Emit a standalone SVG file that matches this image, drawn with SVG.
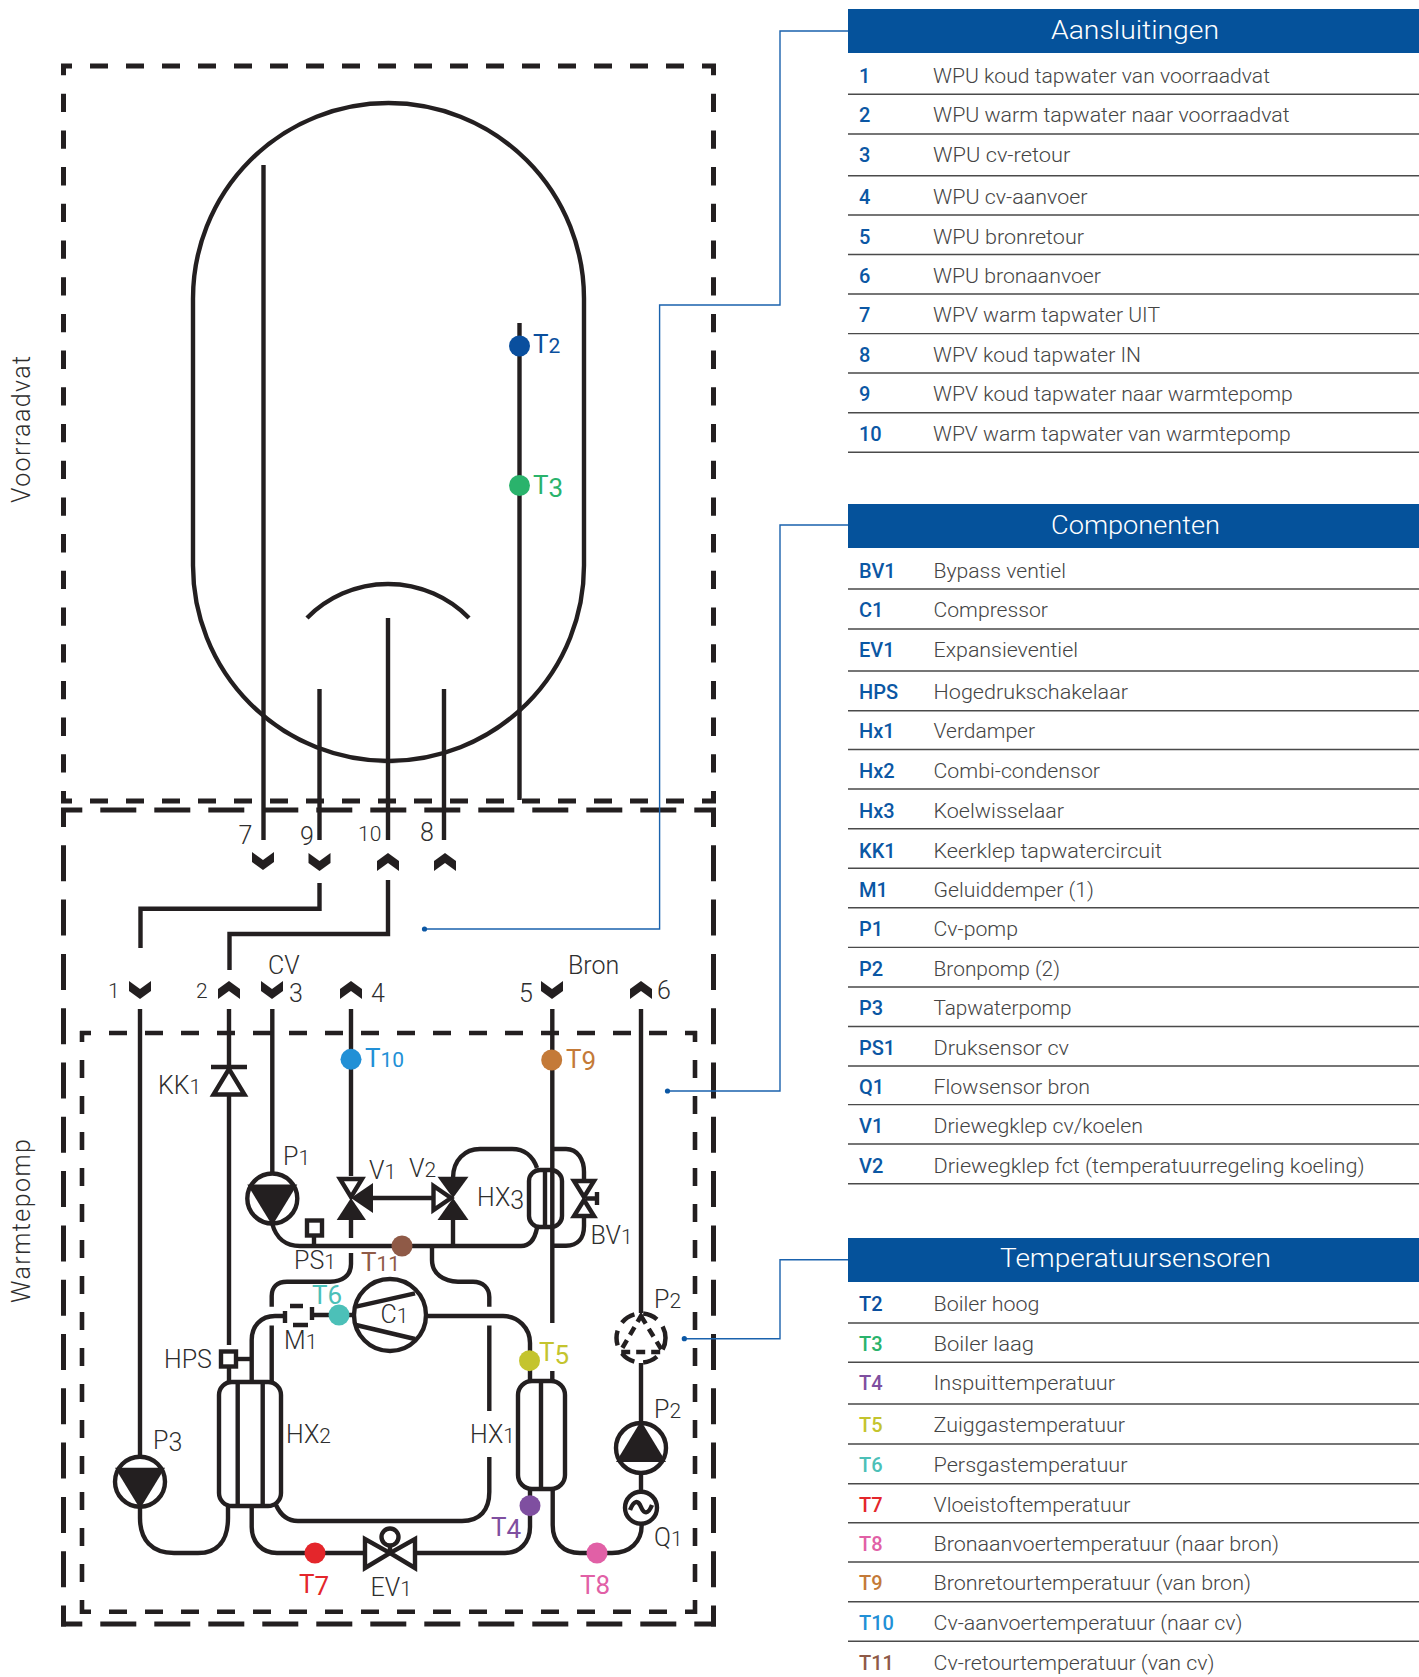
<svg xmlns="http://www.w3.org/2000/svg" width="1419" height="1677" viewBox="0 0 1419 1677">
<style>
text{font-family:Roboto,"Liberation Sans",sans-serif;font-weight:300}
.lb{font-size:25px;fill:#2e2e2e;font-weight:300}
.tl{font-size:26px;font-weight:400}
.s{font-size:21px}
.h{font-size:26px;fill:#fff}
.d{font-size:21px;fill:#444}
.k{font-size:20px;font-weight:500}
.b{fill:#0b57a4}
.r{stroke:#4a4a4a;stroke-width:1.4;fill:none}
.hd{fill:#05529b}
.w{fill:none;stroke:#231f20;stroke-width:4.4}
.f{fill:#fff;stroke:#231f20;stroke-width:4.4}
.t{fill:#231f20;stroke:none}
.o{fill:none;stroke:#231f20;stroke-width:5}
.i{fill:none;stroke:#231f20;stroke-width:4.6}
.ld{fill:none;stroke:#1a62ad;stroke-width:1.4}
.dp{fill:none;stroke:#231f20;stroke-width:4.5}
</style>
<defs>
<path id="cd" class="t" d="M-11,0 L0,8 L11,0 V10 L0,18 L-11,10Z"/>
<path id="cu" class="t" d="M-11,18 L0,10 L11,18 V8 L0,0 L-11,8Z"/>
<g id="pd"><circle r="25" class="f"/><path class="t" d="M-25,-14 H25 L0,27Z"/></g>
<g id="pu"><circle r="25" class="f"/><path class="t" d="M-25,14 H25 L0,-27Z"/></g>
</defs>

<g id="frames">
<g id="frame-voorraadvat">
<path class="o" stroke-dasharray="18 18" stroke-dashoffset="7" d="M61,66 H716"/>
<path class="o" stroke-dasharray="18 18" stroke-dashoffset="7" d="M61,801 H716"/>
<path class="o" stroke-dasharray="18.3 18.4" stroke-dashoffset="7" d="M63.5,64 V803"/>
<path class="o" stroke-dasharray="18.3 18.4" stroke-dashoffset="7" d="M713.5,64 V803"/>
</g>
<g id="frame-warmtepomp">
<path class="o" stroke-dasharray="36 18" stroke-dashoffset="14.7" d="M61,810 H716"/>
<path class="o" stroke-dasharray="36 18" stroke-dashoffset="14.7" d="M61,1624 H716"/>
<path class="o" stroke-dasharray="36 18.3" stroke-dashoffset="17" d="M63.5,808 V1626.5"/>
<path class="o" stroke-dasharray="36 18.3" stroke-dashoffset="17" d="M713.5,808 V1626.5"/>
</g>
<g id="frame-unit">
<path class="i" stroke-dasharray="18 18" stroke-dashoffset="7" d="M80,1033 H697"/>
<path class="i" stroke-dasharray="18 18" stroke-dashoffset="7" d="M80,1611.7 H697"/>
<path class="i" stroke-dasharray="18 18" stroke-dashoffset="7" d="M82,1031 V1614"/>
<path class="i" stroke-dasharray="18 18" stroke-dashoffset="7" d="M695,1031 V1614"/>
</g>
</g>

<g id="connectors">
<path class="w" d="M263.5,165 V840"/>
<path class="w" d="M319.5,689 V840"/>
<path class="w" d="M388,618 V840"/>
<path class="w" d="M444,689 V840"/>
<path class="w" d="M519.5,323 V800"/>
<path class="w" d="M319.5,883 V908.7 H140.5 V948"/>
<path class="w" d="M388,880 V934 H229.5 V970"/>
<path class="w" d="M140,1009 V1456"/>
<path class="w" d="M140,1508 V1518 C140,1540 152,1553 174,1553 H198 C218,1553 228,1540 228,1518 V1506"/>
<path class="w" d="M229,1009 V1067 M229,1096 V1345 M229,1368 V1382"/>
<path class="w" d="M272.3,1009 V1174"/>
<path class="w" d="M272.3,1224 C276,1238 286,1246 300,1246 H521 C530,1246 535,1238 537,1228"/>
<path class="w" d="M351,1009 V1176 M351,1220 V1238"/>
<path class="w" d="M351,1253 V1264 C351,1276 342,1281.7 330,1281.7 H287 C277,1281.7 271.7,1287 271.7,1296 V1306.7 M271.7,1325.5 V1382"/>
<path class="w" d="M432,1246 V1260 C432,1274 444,1281.7 458,1281.7 H473 C483,1281.7 489.3,1288 489.3,1297 V1306.7 M489.3,1325.5 V1411 M489.3,1457 V1492 C489.3,1510 480,1521 462,1521 H298 C288,1521 281,1516 276,1505"/>
<path class="w" d="M453,1178 C453,1160 465,1149 480,1149 H512 C524,1149 533,1156 537,1168"/>
<path class="w" d="M453,1220 V1246"/>
<path class="w" d="M552.3,1009 V1169 M552.3,1227 V1323 M552.3,1371 V1380"/>
<path class="w" d="M552.3,1149 H566 C578,1149 584,1160 584,1172 V1180 M584,1217 V1226 C584,1238 578,1245.7 566,1245.7 H552.3"/>
<path class="w" d="M373,1198 H432"/>
<path class="w" d="M641,1009 V1313"/>
<path class="w" d="M641,1363 V1423"/>
<path class="w" d="M641,1473 V1491"/>
<path class="w" d="M251.7,1382 V1340 C251.7,1326 261,1316 275,1316 H284"/>
<path class="w" d="M312,1315 H354"/>
<path class="w" d="M428,1316 H503 C518,1316 530,1328 530,1343 V1380"/>
<path class="w" d="M238,1359 H252"/>
<path class="w" d="M251.7,1506 V1527 C251.7,1542 262,1553 277,1553 H363"/>
<path class="w" d="M417,1553 H505 C520,1553 530,1542 530,1527 V1490"/>
<path class="w" d="M552.7,1489 V1525 C552.7,1542 563,1553 580,1553 H612 C630,1553 641.7,1542 641.7,1525"/>
<path class="w" d="M314,1236 V1246"/>
<path class="ld" d="M848,31 H780 V305 H659.6 V929 H424.5"/>
<path class="ld" d="M848,525 H780 V1091 H667.5"/>
<path class="ld" d="M848,1259.7 H780 V1338.7 H684.3"/>
<circle cx="424.5" cy="929" r="2.6" class="b"/>
<circle cx="667.5" cy="1091" r="2.6" class="b"/>
<circle cx="684.3" cy="1338.7" r="2.6" class="b"/>
</g>

<g id="tank">
<path class="w" d="M193,298.5 A195.5,195.5 0 0 1 584,298.5 V565.5 A195.5,195.5 0 0 1 193,565.5 Z"/>
<path class="w" d="M307,618 A113.5,113.5 0 0 1 469,618"/>
</g>

<g id="ports">
<use href="#cd" x="263" y="852"/><use href="#cd" x="319.5" y="853"/><use href="#cu" x="388" y="853"/><use href="#cu" x="445" y="853"/>
<use href="#cd" x="140" y="981"/><use href="#cu" x="229" y="981"/><use href="#cd" x="272" y="981"/><use href="#cu" x="351" y="981"/><use href="#cd" x="552" y="981"/><use href="#cu" x="641" y="981"/>
</g>

<g id="KK1"><path class="w" d="M211,1067 H247"/><path class="f" d="M229,1069 L213.5,1094.5 H244.5Z"/></g>
<g id="P3"><use href="#pd" x="140" y="1481.7"/></g>
<g id="P1"><use href="#pd" x="272.3" y="1198.5"/></g>
<g id="P2-lower"><use href="#pu" x="641" y="1448"/></g>
<g id="P2-upper">
<circle cx="641" cy="1338" r="24.5" class="dp" stroke-dasharray="15 9" stroke-dashoffset="3"/>
<path class="dp" stroke-dasharray="9 6" d="M641,1316 L663,1352 H620Z"/>
</g>
<g id="Q1"><circle cx="641" cy="1507.7" r="16" class="f"/><path class="w" d="M630,1510 C634,1500 638,1500 641,1507 C644,1514 648,1515 652,1505"/></g>
<g id="V1">
<path class="f" d="M340,1179 H362 L351,1197Z"/>
<path class="t" d="M336.7,1220 H366 L351,1198Z"/>
<path class="t" d="M373,1183 V1213 L351,1198Z"/>
</g>
<g id="V2">
<path class="t" d="M437.5,1176.7 H468.5 L453,1198Z"/>
<path class="t" d="M437.5,1220 H468.5 L453,1198Z"/>
<path class="f" d="M433.5,1186 V1210 L451,1198Z"/>
</g>
<g id="BV1">
<path class="f" d="M574,1181 H594 L584,1197Z"/>
<path class="f" d="M574,1216 H594 L584,1200Z"/>
<path class="w" d="M586,1198.5 H597 M597,1192 V1205"/>
</g>
<g id="HX3"><rect x="529" y="1170" width="33" height="57" rx="11" class="f"/><path class="w" d="M545,1170 V1227 M552.3,1170 V1227"/></g>
<g id="HX2"><rect x="219" y="1382" width="62" height="124" rx="13" class="f"/><path class="w" d="M237.7,1382 V1506 M262.7,1382 V1506"/></g>
<g id="HX1"><rect x="518" y="1381" width="47" height="108" rx="14" class="f"/><path class="w" d="M541,1381 V1489"/></g>
<g id="HPS"><rect x="221" y="1351.5" width="15" height="15" class="f"/></g>
<g id="PS1"><rect x="307" y="1220.5" width="15" height="15" class="f"/></g>
<g id="M1"><path class="w" d="M285,1311 V1323 M312,1307 V1320 M290,1306 H303 M293,1325 H308"/></g>
<g id="C1"><circle cx="390" cy="1315" r="36" class="f"/><path class="w" d="M356,1306.7 L415,1293.3 M356,1325 L415,1339"/></g>
<g id="EV1"><path class="f" d="M365,1539 V1568 L390,1553Z"/><path class="f" d="M415,1539 V1568 L390,1553Z"/><path class="w" d="M390,1537 V1553"/><circle cx="390" cy="1537" r="8.5" class="f"/></g>

<g id="sensors">
<circle id="T2" cx="519.5" cy="346" r="10.5" fill="#0a4f9e"/>
<circle id="T3" cx="519.5" cy="485.5" r="10.5" fill="#2ab36c"/>
<circle id="T10" cx="351" cy="1059.3" r="10.5" fill="#2290d6"/>
<circle id="T9" cx="551.7" cy="1060" r="10.5" fill="#c47a38"/>
<circle id="T11" cx="402" cy="1246" r="10.5" fill="#8f5a47"/>
<circle id="T6" cx="339" cy="1315" r="10.5" fill="#4cc0b8"/>
<circle id="T5" cx="529.5" cy="1360.7" r="10.5" fill="#c4c42e"/>
<circle id="T4" cx="530" cy="1505.7" r="10.5" fill="#7f4fa0"/>
<circle id="T7" cx="315" cy="1553" r="10.5" fill="#e4262b"/>
<circle id="T8" cx="597" cy="1553" r="10.5" fill="#e160a6"/>
</g>

<g id="diagram-labels">
<text class="lb" transform="translate(30,503) rotate(-90)" textLength="147">Voorraadvat</text>
<text class="lb" transform="translate(30,1303) rotate(-90)" textLength="164">Warmtepomp</text>
<text class="lb" x="238.500" y="844">7</text>
<text class="lb" x="300" y="845">9</text>
<text class="lb" x="358" y="841"><tspan class="s">10</tspan></text>
<text class="lb" x="420" y="841">8</text>
<text class="lb" x="108" y="998"><tspan class="s">1</tspan></text>
<text class="lb" x="196" y="998"><tspan class="s">2</tspan></text>
<text class="lb" x="289" y="1001.7">3</text>
<text class="lb" x="371" y="1001.7">4</text>
<text class="lb" x="268" y="974">CV</text>
<text class="lb" x="568" y="974">Bron</text>
<text class="lb" x="519" y="1001.7">5</text>
<text class="lb" x="657" y="999">6</text>
<text class="lb" x="158" y="1094">KK<tspan class="s">1</tspan></text>
<text class="lb" x="283" y="1165">P<tspan class="s">1</tspan></text>
<text class="lb" x="369" y="1179">V<tspan class="s">1</tspan></text>
<text class="lb" x="409" y="1176.7">V<tspan class="s">2</tspan></text>
<text class="lb" x="477" y="1206">HX<tspan dy="3">3</tspan></text>
<text class="lb" x="590.5" y="1244">BV<tspan class="s">1</tspan></text>
<text class="lb" x="294" y="1269">PS<tspan class="s">1</tspan></text>
<text class="lb" x="380.5" y="1322.7">C<tspan class="s">1</tspan></text>
<text class="lb" x="284" y="1349">M<tspan class="s">1</tspan></text>
<text class="lb" x="164" y="1368">HPS</text>
<text class="lb" x="153" y="1449">P<tspan dy="2">3</tspan></text>
<text class="lb" x="286" y="1442.7">HX<tspan class="s">2</tspan></text>
<text class="lb" x="370.5" y="1595.7">EV<tspan class="s">1</tspan></text>
<text class="lb" x="470" y="1442.7">HX<tspan class="s">1</tspan></text>
<text class="lb" x="654" y="1307.7">P<tspan class="s">2</tspan></text>
<text class="lb" x="654" y="1417.7">P<tspan class="s">2</tspan></text>
<text class="lb" x="654" y="1546">Q<tspan class="s">1</tspan></text>
<text class="tl" x="533" y="353" fill="#0a4f9e">T<tspan class="s">2</tspan></text>
<text class="tl" x="533" y="494" fill="#2ab36c">T<tspan dy="3">3</tspan></text>
<text class="tl" x="365" y="1067" fill="#2290d6">T<tspan class="s">10</tspan></text>
<text class="tl" x="566" y="1068" fill="#c47a38">T<tspan dy="2">9</tspan></text>
<text class="tl" x="361" y="1271" fill="#8f5a47">T<tspan class="s">11</tspan></text>
<text class="tl" x="312" y="1303.7" fill="#4cc0b8">T6</text>
<text class="tl" x="539" y="1361" fill="#c4c42e">T<tspan dy="3">5</tspan></text>
<text class="tl" x="491" y="1536" fill="#7f4fa0">T<tspan dy="2">4</tspan></text>
<text class="tl" x="299" y="1593" fill="#e4262b">T<tspan dy="2">7</tspan></text>
<text class="tl" x="580" y="1594" fill="#e160a6">T8</text>
</g>

<g id="table-aansluitingen">
<rect class="hd" x="848" y="9" width="571" height="44"/>
<text class="h" x="1051" y="39" textLength="168" lengthAdjust="spacingAndGlyphs">Aansluitingen</text>
<path class="r" d="M848,94.3 H1419 M848,134 H1419 M848,175.7 H1419 M848,215 H1419 M848,254.5 H1419 M848,294 H1419 M848,333.6 H1419 M848,373 H1419 M848,412.7 H1419 M848,452.3 H1419"/>
<text class="k b" x="859" y="83">1</text><text class="k b" x="859" y="122">2</text><text class="k b" x="859" y="162.3">3</text><text class="k b" x="859" y="204">4</text><text class="k b" x="859" y="243.5">5</text><text class="k b" x="859" y="283">6</text><text class="k b" x="859" y="322">7</text><text class="k b" x="859" y="362">8</text><text class="k b" x="859" y="401">9</text><text class="k b" x="859" y="441">10</text>
<text class="d" x="933" y="83" textLength="337" lengthAdjust="spacingAndGlyphs">WPU koud tapwater van voorraadvat</text>
<text class="d" x="933" y="122" textLength="356.6" lengthAdjust="spacingAndGlyphs">WPU warm tapwater naar voorraadvat</text>
<text class="d" x="933" y="162.3" textLength="137.4" lengthAdjust="spacingAndGlyphs">WPU cv-retour</text>
<text class="d" x="933" y="204" textLength="154.5" lengthAdjust="spacingAndGlyphs">WPU cv-aanvoer</text>
<text class="d" x="933" y="243.5" textLength="151" lengthAdjust="spacingAndGlyphs">WPU bronretour</text>
<text class="d" x="933" y="283" textLength="168" lengthAdjust="spacingAndGlyphs">WPU bronaanvoer</text>
<text class="d" x="933" y="322" textLength="227" lengthAdjust="spacingAndGlyphs">WPV warm tapwater UIT</text>
<text class="d" x="933" y="362" textLength="208" lengthAdjust="spacingAndGlyphs">WPV koud tapwater IN</text>
<text class="d" x="933" y="401" textLength="359.8" lengthAdjust="spacingAndGlyphs">WPV koud tapwater naar warmtepomp</text>
<text class="d" x="933" y="441" textLength="357.6" lengthAdjust="spacingAndGlyphs">WPV warm tapwater van warmtepomp</text>
</g>

<g id="table-componenten">
<rect class="hd" x="848" y="504" width="571" height="44"/>
<text class="h" x="1051" y="534" textLength="169" lengthAdjust="spacingAndGlyphs">Componenten</text>
<path class="r" d="M848,589 H1419 M848,629 H1419 M848,671 H1419 M848,710.7 H1419 M848,749.5 H1419 M848,789 H1419 M848,828.7 H1419 M848,868.3 H1419 M848,907.8 H1419 M848,947.4 H1419 M848,987 H1419 M848,1026.5 H1419 M848,1066 H1419 M848,1104.6 H1419 M848,1144 H1419 M848,1183.7 H1419"/>
<text class="k b" x="859" y="577.5">BV1</text><text class="k b" x="859" y="617">C1</text><text class="k b" x="859" y="656.6">EV1</text><text class="k b" x="859" y="699">HPS</text><text class="k b" x="859" y="738.3">Hx1</text><text class="k b" x="859" y="778">Hx2</text><text class="k b" x="859" y="818">Hx3</text><text class="k b" x="859" y="857.6">KK1</text><text class="k b" x="859" y="897">M1</text><text class="k b" x="859" y="936">P1</text><text class="k b" x="859" y="976">P2</text><text class="k b" x="859" y="1015">P3</text><text class="k b" x="859" y="1055">PS1</text><text class="k b" x="859" y="1094">Q1</text><text class="k b" x="859" y="1133">V1</text><text class="k b" x="859" y="1173">V2</text>
<text class="d" x="933.5" y="577.5" textLength="132.5" lengthAdjust="spacingAndGlyphs">Bypass ventiel</text>
<text class="d" x="933.5" y="617" textLength="114.5" lengthAdjust="spacingAndGlyphs">Compressor</text>
<text class="d" x="933.5" y="656.6" textLength="144.5" lengthAdjust="spacingAndGlyphs">Expansieventiel</text>
<text class="d" x="933.5" y="699" textLength="194.5" lengthAdjust="spacingAndGlyphs">Hogedrukschakelaar</text>
<text class="d" x="933.5" y="738.3" textLength="101.5" lengthAdjust="spacingAndGlyphs">Verdamper</text>
<text class="d" x="933.5" y="778" textLength="166.5" lengthAdjust="spacingAndGlyphs">Combi-condensor</text>
<text class="d" x="933.5" y="818" textLength="130.5" lengthAdjust="spacingAndGlyphs">Koelwisselaar</text>
<text class="d" x="933.5" y="857.6" textLength="228.5" lengthAdjust="spacingAndGlyphs">Keerklep tapwatercircuit</text>
<text class="d" x="933.5" y="897" textLength="160.5" lengthAdjust="spacingAndGlyphs">Geluiddemper (1)</text>
<text class="d" x="933.5" y="936" textLength="84.5" lengthAdjust="spacingAndGlyphs">Cv-pomp</text>
<text class="d" x="933.5" y="976" textLength="126.5" lengthAdjust="spacingAndGlyphs">Bronpomp (2)</text>
<text class="d" x="933.5" y="1015" textLength="138" lengthAdjust="spacingAndGlyphs">Tapwaterpomp</text>
<text class="d" x="933.5" y="1055" textLength="135.5" lengthAdjust="spacingAndGlyphs">Druksensor cv</text>
<text class="d" x="933.5" y="1094" textLength="156.5" lengthAdjust="spacingAndGlyphs">Flowsensor bron</text>
<text class="d" x="933.5" y="1133" textLength="209.5" lengthAdjust="spacingAndGlyphs">Driewegklep cv/koelen</text>
<text class="d" x="933.5" y="1173" textLength="431" lengthAdjust="spacingAndGlyphs">Driewegklep fct (temperatuurregeling koeling)</text>
</g>

<g id="table-temperatuursensoren">
<rect class="hd" x="848" y="1238" width="571" height="44"/>
<text class="h" x="1000" y="1267" textLength="271" lengthAdjust="spacingAndGlyphs">Temperatuursensoren</text>
<path class="r" d="M848,1323 H1419 M848,1362.3 H1419 M848,1404 H1419 M848,1444 H1419 M848,1483.7 H1419 M848,1522.7 H1419 M848,1562 H1419 M848,1601.7 H1419 M848,1641.3 H1419"/>
<text class="k" x="859" y="1311" fill="#0a4f9e">T2</text><text class="k" x="859" y="1351" fill="#2ab36c">T3</text><text class="k" x="859" y="1390" fill="#7f4fa0">T4</text><text class="k" x="859" y="1432.3" fill="#c4c42e">T5</text><text class="k" x="859" y="1472" fill="#4cc0b8">T6</text><text class="k" x="859" y="1512" fill="#e4262b">T7</text><text class="k" x="859" y="1550.7" fill="#e160a6">T8</text><text class="k" x="859" y="1590" fill="#c47a38">T9</text><text class="k" x="859" y="1630" fill="#2290d6">T10</text><text class="k" x="859" y="1670" fill="#8f5a47">T11</text>
<text class="d" x="933.5" y="1311" textLength="106" lengthAdjust="spacingAndGlyphs">Boiler hoog</text>
<text class="d" x="933.5" y="1351" textLength="100.5" lengthAdjust="spacingAndGlyphs">Boiler laag</text>
<text class="d" x="933.5" y="1390" textLength="181.5" lengthAdjust="spacingAndGlyphs">Inspuittemperatuur</text>
<text class="d" x="933.5" y="1432.3" textLength="191.5" lengthAdjust="spacingAndGlyphs">Zuiggastemperatuur</text>
<text class="d" x="933.5" y="1472" textLength="194" lengthAdjust="spacingAndGlyphs">Persgastemperatuur</text>
<text class="d" x="933.5" y="1512" textLength="197" lengthAdjust="spacingAndGlyphs">Vloeistoftemperatuur</text>
<text class="d" x="933.5" y="1550.7" textLength="345.5" lengthAdjust="spacingAndGlyphs">Bronaanvoertemperatuur (naar bron)</text>
<text class="d" x="933.5" y="1590" textLength="317.5" lengthAdjust="spacingAndGlyphs">Bronretourtemperatuur (van bron)</text>
<text class="d" x="933.5" y="1630" textLength="309" lengthAdjust="spacingAndGlyphs">Cv-aanvoertemperatuur (naar cv)</text>
<text class="d" x="933.5" y="1670" textLength="281" lengthAdjust="spacingAndGlyphs">Cv-retourtemperatuur (van cv)</text>
</g>
</svg>
